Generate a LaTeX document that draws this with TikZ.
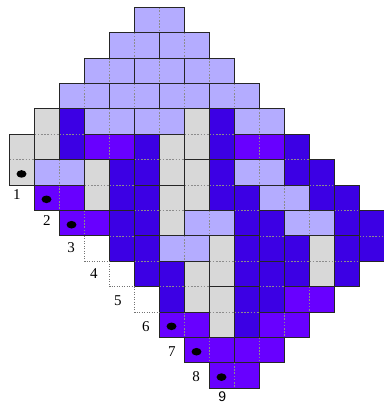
\documentclass[tikz,border=0pt]{standalone}
\usepackage{fontspec}
\setmainfont{Liberation Serif}
\newfontfamily\ninefont{Liberation Sans}
\definecolor{lav}{RGB}{180,172,255}
\definecolor{dkb}{RGB}{60,0,228}
\definecolor{vio}{RGB}{104,0,255}
\definecolor{gry}{RGB}{216,216,216}
\newcommand\hdom[3]{%
  \fill[#3] (#1,#2) rectangle ++(2,1);
  \draw[seam] (#1+1,#2) -- ++(0,1);
  \draw[dom] (#1,#2) rectangle ++(2,1);}
\newcommand\vdom[3]{%
  \fill[#3] (#1,#2) rectangle ++(1,2);
  \draw[seam] (#1,#2+1) -- ++(1,0);
  \draw[dom] (#1,#2) rectangle ++(1,2);}
\begin{document}
\begin{tikzpicture}[x=25pt,y=-25.4pt,
  dom/.style={draw=black!85,line width=0.9pt,line join=miter},
  seam/.style={draw=black!45,dash pattern=on 1.6pt off 1.6pt,line width=0.6pt},
  emptycell/.style={draw=black!55,dash pattern=on 0.8pt off 1.7pt,line width=0.8pt},
  lbl/.style={font=\fontsize{15}{15}\selectfont,inner sep=0pt},
  marker/.style={fill=black}]
\useasboundingbox (-0.38,-0.2874) rectangle (14.98,15.579);
% horizontal lavender dominoes
\foreach \c/\r in {5/0,4/1,6/1,3/2,5/2,7/2,2/3,4/3,6/3,8/3,3/4,5/4,9/4,1/6,9/6,10/7,7/8,11/8,6/9}
  {\hdom{\c}{\r}{lav}}
% horizontal violet dominoes
\foreach \c/\r in {3/5,9/5,1/7,2/8,11/11,6/12,10/12,7/13,9/13,8/14}
  {\hdom{\c}{\r}{vio}}
% vertical gray dominoes
\foreach \c/\r in {1/4,7/4,0/5,6/5,3/6,7/6,6/7,8/9,12/9,7/10,8/11}
  {\vdom{\c}{\r}{gry}}
% vertical dark dominoes
\foreach \c/\r in {2/4,8/4,5/5,11/5,4/6,8/6,12/6,5/7,9/7,13/7,4/8,10/8,14/8,5/9,9/9,11/9,13/9,6/10,10/10,9/11}
  {\vdom{\c}{\r}{dkb}}
% empty dotted cells
\draw[emptycell] (3,9) -- (3,10) -- (4,10);
\draw[emptycell] (4,10) -- (4,11) -- (5,11);
\draw[emptycell] (5,11) -- (5,12) -- (6,12);
% dots
\foreach \c/\r in {0/6,1/7,2/8,6/12,7/13,8/14}
  {\fill[marker] (\c+0.48,\r+0.56) ellipse (5pt and 3.8pt);}
% labels
\node[lbl] (l1) at (0.29,7.39) {1};
\node[lbl] (l2) at (1.49,8.41) {2};
\node[lbl] (l3) at (2.46,9.45) {3};
\node[lbl] (l4) at (3.38,10.47) {4};
\node[lbl] (l5) at (4.33,11.55) {5};
\node[lbl] (l6) at (5.45,12.57) {6};
\node[lbl] (l7) at (6.49,13.56) {7};
\node[lbl] (l8) at (7.46,14.54) {8};
\node[lbl,font=\ninefont\fontsize{14}{14}\selectfont] (l9) at (8.51,15.33) {9};
\end{tikzpicture}
\end{document}
